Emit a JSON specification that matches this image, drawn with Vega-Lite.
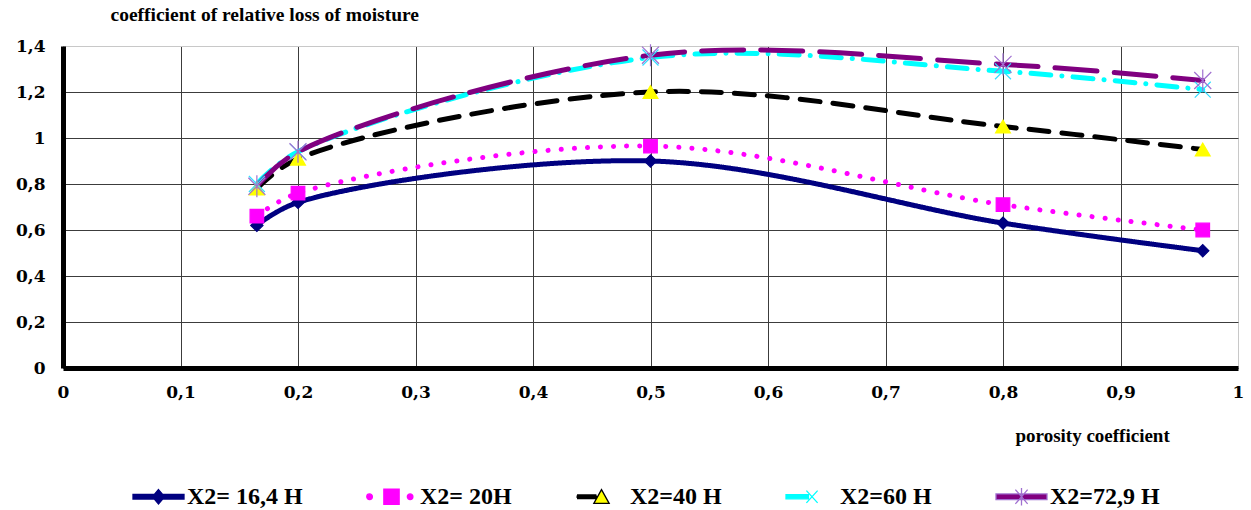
{
  "$schema": "https://vega.github.io/schema/vega-lite/v6.json",
  "width": 1175,
  "height": 322,
  "autosize": {"type": "none"},
  "padding": {"left": 63, "top": 46, "right": 13, "bottom": 142},
  "background": "white",
  "config": {
    "view": {"stroke": "#c8c8c8", "strokeWidth": 1},
    "font": "Liberation Serif"
  },
  "data": {
    "values": [
      {"s": "X2= 16,4 H", "x": 0.165, "y": 0.62},
      {"s": "X2= 16,4 H", "x": 0.2, "y": 0.72},
      {"s": "X2= 16,4 H", "x": 0.5, "y": 0.90},
      {"s": "X2= 16,4 H", "x": 0.8, "y": 0.63},
      {"s": "X2= 16,4 H", "x": 0.97, "y": 0.51},
      {"s": "X2= 20H", "x": 0.165, "y": 0.66},
      {"s": "X2= 20H", "x": 0.2, "y": 0.76},
      {"s": "X2= 20H", "x": 0.5, "y": 0.965},
      {"s": "X2= 20H", "x": 0.8, "y": 0.71},
      {"s": "X2= 20H", "x": 0.97, "y": 0.60},
      {"s": "X2=40 H", "x": 0.165, "y": 0.78},
      {"s": "X2=40 H", "x": 0.2, "y": 0.91},
      {"s": "X2=40 H", "x": 0.5, "y": 1.20},
      {"s": "X2=40 H", "x": 0.8, "y": 1.05},
      {"s": "X2=40 H", "x": 0.97, "y": 0.95},
      {"s": "X2=60 H", "x": 0.165, "y": 0.80},
      {"s": "X2=60 H", "x": 0.2, "y": 0.94},
      {"s": "X2=60 H", "x": 0.5, "y": 1.35},
      {"s": "X2=60 H", "x": 0.8, "y": 1.29},
      {"s": "X2=60 H", "x": 0.97, "y": 1.21},
      {"s": "X2=72,9 H", "x": 0.165, "y": 0.79},
      {"s": "X2=72,9 H", "x": 0.2, "y": 0.94},
      {"s": "X2=72,9 H", "x": 0.5, "y": 1.36},
      {"s": "X2=72,9 H", "x": 0.8, "y": 1.32},
      {"s": "X2=72,9 H", "x": 0.97, "y": 1.25}
    ]
  },
  "encoding": {
    "x": {
      "field": "x", "type": "quantitative",
      "scale": {"domain": [0, 1], "nice": false, "zero": false},
      "axis": {
        "values": [0, 0.1, 0.2, 0.3, 0.4, 0.5, 0.6, 0.7, 0.8, 0.9, 1],
        "labelExpr": "datum.value == 0 ? '0' : datum.value == 1 ? '1' : replace(format(datum.value, '.1f'), '.', ',')",
        "title": "porosity coefficient",
        "titleFont": "Liberation Serif", "titleFontSize": 19, "titleFontWeight": "bold", "titleColor": "#000",
        "titleAlign": "left", "titleBaseline": "alphabetic", "titleX": 952, "titleY": 73,
        "labelFont": "DejaVu Serif", "labelFontSize": 17, "labelFontWeight": "bold", "labelColor": "#000",
        "labelPadding": 16, "labelFlush": false, "labelOverlap": false,
        "ticks": false,
        "domainColor": "#000", "domainWidth": 5,
        "grid": true,
        "gridColor": {"condition": {"test": "datum.value >= 0.99", "value": "#c8c8c8"}, "value": "#3c3c3c"},
        "gridWidth": 1
      }
    },
    "y": {
      "field": "y", "type": "quantitative",
      "scale": {"domain": [0, 1.4], "nice": false},
      "axis": {
        "values": [0, 0.2, 0.4, 0.6, 0.8, 1, 1.2, 1.4],
        "labelExpr": "datum.value == 0 ? '0' : datum.value == 1 ? '1' : replace(format(datum.value, '.1f'), '.', ',')",
        "title": "coefficient of relative loss of moisture",
        "titleFont": "Liberation Serif", "titleFontSize": 19.5, "titleFontWeight": "bold", "titleColor": "#000",
        "titleAngle": 0, "titleAlign": "left", "titleBaseline": "alphabetic", "titleX": 47, "titleY": -26,
        "labelFont": "DejaVu Serif", "labelFontSize": 17, "labelFontWeight": "bold", "labelColor": "#000",
        "labelPadding": 18, "labelFlush": false, "labelOverlap": false,
        "ticks": false,
        "domainColor": "#000", "domainWidth": 5,
        "grid": true,
        "gridColor": {"condition": {"test": "datum.value >= 1.39", "value": "#c8c8c8"}, "value": "#3c3c3c"},
        "gridWidth": 1
      }
    }
  },
  "layer": [
    {
      "mark": {"type": "line", "interpolate": "catmull-rom", "strokeCap": "round", "strokeWidth": 5},
      "encoding": {
        "color": {
          "field": "s", "type": "nominal",
          "scale": {"domain": ["X2= 16,4 H", "X2= 20H", "X2=40 H", "X2=60 H", "X2=72,9 H"],
                    "range": ["#000080", "#ff00ff", "#000000", "#00ffff", "#800080"]},
          "legend": null
        },
        "strokeDash": {
          "field": "s", "type": "nominal",
          "scale": {"domain": ["X2= 16,4 H", "X2= 20H", "X2=40 H", "X2=60 H", "X2=72,9 H"],
                    "range": [[1, 0], [0.1, 13], [20, 13], [20, 11, 0.1, 11], [42, 17]]},
          "legend": null
        }
      }
    },
    {
      "mark": {"type": "point", "filled": true, "opacity": 1, "strokeWidth": 1.2},
      "encoding": {
        "shape": {
          "field": "s", "type": "nominal",
          "scale": {"domain": ["X2= 16,4 H", "X2= 20H", "X2=40 H", "X2=60 H", "X2=72,9 H"],
                    "range": ["diamond", "square", "triangle-up", "M-1,-1L1,1M-1,1L1,-1", "M-1,-1L1,1M-1,1L1,-1M0,-1.3L0,1.3"]},
          "legend": null
        },
        "fill": {
          "field": "s", "type": "nominal",
          "scale": {"domain": ["X2= 16,4 H", "X2= 20H", "X2=40 H", "X2=60 H", "X2=72,9 H"],
                    "range": ["#000080", "#ff00ff", "#ffff00", "#00ffff", "#9966cc"]},
          "legend": null
        },
        "stroke": {
          "field": "s", "type": "nominal",
          "scale": {"domain": ["X2= 16,4 H", "X2= 20H", "X2=40 H", "X2=60 H", "X2=72,9 H"],
                    "range": ["#000080", "#ff00ff", "#ffff00", "#33ddff", "#a070d0"]},
          "legend": null
        },
        "size": {
          "field": "s", "type": "ordinal",
          "scale": {"domain": ["X2= 16,4 H", "X2= 20H", "X2=40 H", "X2=60 H", "X2=72,9 H"],
                    "range": [150, 290, 280, 250, 230]},
          "legend": null
        }
      }
    },
    {
      "mark": {"type": "point", "filled": true, "opacity": 0, "strokeWidth": 1.3},
      "encoding": {
        "shape": {
          "field": "s", "type": "nominal",
          "scale": {"domain": ["X2= 16,4 H", "X2= 20H", "X2=40 H", "X2=60 H", "X2=72,9 H"],
                    "range": [
                      "M-1,-0.09H1V0.09H-1Z M0,-0.28L0.24,0L0,0.28L-0.24,0Z",
                      "M-0.97,0A0.11,0.11 0 1,0 -0.75,0A0.11,0.11 0 1,0 -0.97,0Z M-0.3,-0.3H0.3V0.3H-0.3Z M0.62,0A0.11,0.11 0 1,0 0.84,0A0.11,0.11 0 1,0 0.62,0Z",
                      "M-0.96,-0.07H-0.2M-0.98,-0.025H-0.18M-0.98,0.025H-0.18M-0.96,0.07H-0.2 M0,-0.28L0.3,0.26L-0.3,0.26Z",
                      "M-1,-0.08H-0.12V0.08H-1Z M-0.2,-0.24L0.24,0.24M-0.2,0.24L0.24,-0.24",
                      "M-1,-0.11H1V0.11H-1Z M-0.24,-0.28L0.24,0.28M-0.24,0.28L0.24,-0.28M0,-0.34V0.34"
                    ]},
          "legend": {
            "title": null, "orient": "none", "direction": "horizontal",
            "legendX": 69, "legendY": 424, "padding": 0,
            "symbolSize": 2601, "symbolStrokeWidth": 1.3, "symbolOpacity": 1,
            "labelFont": "Liberation Serif", "labelFontSize": 24, "labelFontWeight": "bold", "labelColor": "#000",
            "labelOffset": 2, "columnPadding": 61, "labelLimit": 400
          }
        },
        "fill": {
          "field": "s", "type": "nominal",
          "scale": {"domain": ["X2= 16,4 H", "X2= 20H", "X2=40 H", "X2=60 H", "X2=72,9 H"],
                    "range": ["#000080", "#ff00ff", "#ffff00", "#00ffff", "#800080"]},
          "legend": {
            "title": null, "orient": "none", "direction": "horizontal",
            "legendX": 69, "legendY": 424, "padding": 0,
            "symbolSize": 2601, "symbolStrokeWidth": 1.3, "symbolOpacity": 1,
            "labelFont": "Liberation Serif", "labelFontSize": 24, "labelFontWeight": "bold", "labelColor": "#000",
            "labelOffset": 2, "columnPadding": 61, "labelLimit": 400
          }
        },
        "stroke": {
          "field": "s", "type": "nominal",
          "scale": {"domain": ["X2= 16,4 H", "X2= 20H", "X2=40 H", "X2=60 H", "X2=72,9 H"],
                    "range": ["#000080", "#ff00ff", "#000000", "#00ffff", "#a070d0"]},
          "legend": {
            "title": null, "orient": "none", "direction": "horizontal",
            "legendX": 69, "legendY": 424, "padding": 0,
            "symbolSize": 2601, "symbolStrokeWidth": 1.3, "symbolOpacity": 1,
            "labelFont": "Liberation Serif", "labelFontSize": 24, "labelFontWeight": "bold", "labelColor": "#000",
            "labelOffset": 2, "columnPadding": 61, "labelLimit": 400
          }
        }
      }
    }
  ],
  "resolve": {"scale": {"shape": "independent", "fill": "independent", "stroke": "independent", "size": "independent"}}
}
